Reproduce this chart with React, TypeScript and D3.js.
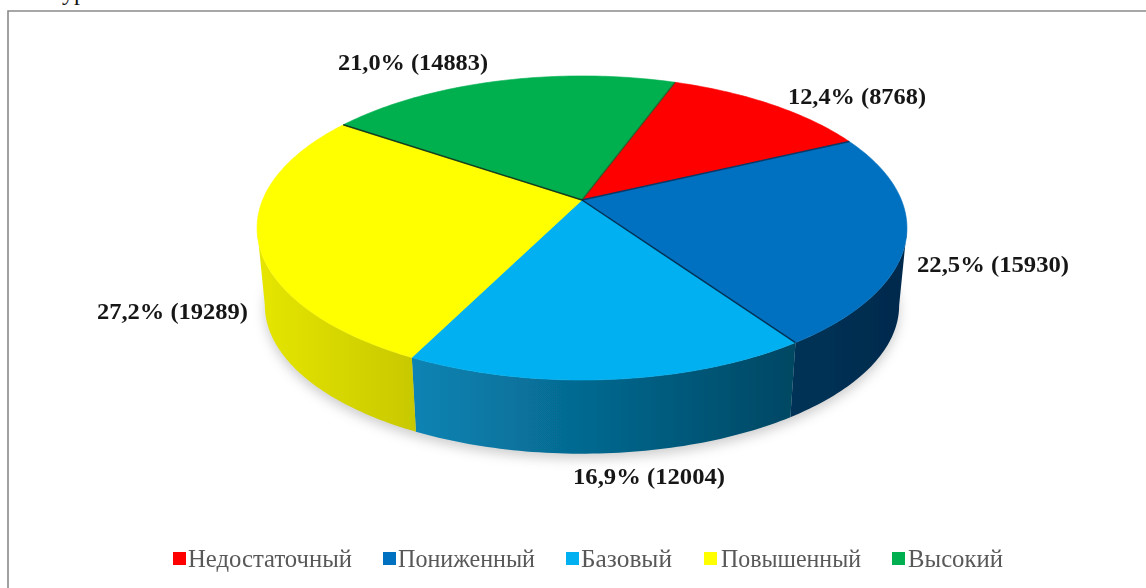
import React from "react";
import * as d3 from "d3";

const categories = ["Недостаточный", "Пониженный", "Базовый", "Повышенный", "Высокий"];
const counts = [8768, 15930, 12004, 19289, 14883];
const topColors = ["#ff0000", "#0070c0", "#00b0f0", "#ffff00", "#00b050"];
const sideFrom = ["#a00000", "#003358", "#0a84b4", "#e6e600", "#007a38"];
const sideTo = ["#800000", "#002a4c", "#004763", "#c8c800", "#006030"];

// label layout, in the order of the categories
const labelX = [788, 917, 573, 97, 338];
const labelBaseline = [104, 272, 484, 319, 70];
const labelWidth = [138, 152, 152, 151, 150];
const legendSquareX = [173, 383, 566, 704, 892];
const legendTextX = [188, 398, 581, 721, 908];
const legendTextWidth = [164, 137, 91, 140, 95];

const W = 1146;
const H = 588;
const cx = 582;
const cy = 200;
const A = 319.4;
const B = 146.9;
const K = 0.184;
const vanishY = 3450;
const shrink = 0.976;

type P = [number, number];
const topPoint = (t: number): P => {
  const u = Math.sin(t);
  const v = Math.cos(t);
  const d = 1 + K * v;
  return [cx + (A * u) / d, cy - (B * v) / d];
};
const bottomOf = ([x, y]: P): P => [cx + (x - cx) * shrink, vanishY - shrink * (vanishY - y)];

const rad = (deg: number) => (deg * Math.PI) / 180;
const pie = d3.pie<number>().sort(null).startAngle(rad(20)).endAngle(rad(380));
const arcs = pie(counts);
const total = d3.sum(counts);
const pct = d3.format(".1f");
const labelText = counts.map((c) => `${pct((c / total) * 100).replace(".", ",")}% (${c})`);

const line = d3.line<P>().x((d) => d[0]).y((d) => d[1]);
const sample = (a: number, b: number): P[] => {
  const n = Math.max(2, Math.ceil(Math.abs(b - a) / rad(1)));
  return d3.range(n + 1).map((i) => topPoint(a + ((b - a) * i) / n));
};
const visA = rad(100.6);
const visB = rad(259.4);

const sides = arcs
  .map((a, i) => {
    const s = Math.max(a.startAngle, visA);
    const e = Math.min(a.endAngle, visB);
    if (e <= s) return null;
    const t = sample(s, e);
    const b = t.map(bottomOf).reverse();
    const xs = [...t, ...b].map((p) => p[0]);
    return { i, d: line([...t, ...b])! + "Z", x1: d3.min(xs)!, x2: d3.max(xs)! };
  })
  .filter(Boolean) as { i: number; d: string; x1: number; x2: number }[];

const bottomOutline = line(sample(0, Math.PI * 2).map(bottomOf))! + "Z";
const edgeColor = ["#08305a", "#002a4c", "", "#143018", "#3a2a10"];
const edgeOpacity = [0.85, 0.95, 0, 0.9, 0.5];

export default function App() {
  return (
    <svg
      width={W}
      height={H}
      viewBox={`0 0 ${W} ${H}`}
      style={{ position: "absolute", left: 0, top: 0, display: "block", background: "#fff" }}
      fontFamily="'Liberation Serif', serif"
    >
      <defs>
        <filter id="shadow" x="-10%" y="-10%" width="120%" height="130%">
          <feGaussianBlur stdDeviation="6" />
        </filter>
        <filter id="soft" x="-5%" y="-5%" width="110%" height="110%">
          <feGaussianBlur stdDeviation="0.5" />
        </filter>
        <filter id="softText" x="-5%" y="-20%" width="110%" height="140%">
          <feGaussianBlur stdDeviation="0.4" />
        </filter>
        {sides.map((s) => (
          <linearGradient
            key={s.i}
            id={`side${s.i}`}
            gradientUnits="userSpaceOnUse"
            x1={s.x1}
            x2={s.x2}
            y1={0}
            y2={0}
          >
            <stop offset="0" stopColor={sideFrom[s.i]} />
            <stop offset="1" stopColor={sideTo[s.i]} />
          </linearGradient>
        ))}
      </defs>
      <text x={62} y={0} fontSize={24} fill="#111">ур</text>
      <path d={`M${W + 5},11H8V${H + 5}`} fill="none" stroke="#8a8a8a" strokeWidth={1.6} />
      <path d={bottomOutline} fill="#8a8a8a" opacity={0.42} filter="url(#shadow)" transform="translate(0,5)" />
      <g filter="url(#soft)">
        {sides.map((s) => (
          <path key={s.i} d={s.d} fill={`url(#side${s.i})`} />
        ))}
        {arcs.map((a, i) => (
          <path
            key={i}
            d={line([[cx, cy], ...sample(a.startAngle, a.endAngle)])! + "Z"}
            fill={topColors[i]}
            stroke={topColors[i]}
            strokeWidth={0.6}
          />
        ))}
        {arcs.map((a, i) =>
          i === 2 ? null : (
            <path
              key={i}
              d={line([[cx, cy], topPoint(a.endAngle)])!}
              stroke={edgeColor[i]}
              strokeWidth={1.5}
              opacity={edgeOpacity[i]}
              fill="none"
            />
          )
        )}
      </g>
      {labelText.map((t, i) => (
        <text
          key={i}
          x={labelX[i]}
          y={labelBaseline[i]}
          fontSize={24}
          fontWeight="bold"
          fill="#151515"
          textLength={labelWidth[i]}
          lengthAdjust="spacingAndGlyphs"
          filter="url(#softText)"
        >
          {t}
        </text>
      ))}
      {categories.map((c, i) => (
        <g key={c}>
          <rect x={legendSquareX[i]} y={552} width={13} height={13} fill={topColors[i]} />
          <text
            x={legendTextX[i]}
            y={567}
            fontSize={25}
            fill="#595959"
            textLength={legendTextWidth[i]}
            lengthAdjust="spacingAndGlyphs"
            filter="url(#softText)"
          >
            {c}
          </text>
        </g>
      ))}
    </svg>
  );
}
